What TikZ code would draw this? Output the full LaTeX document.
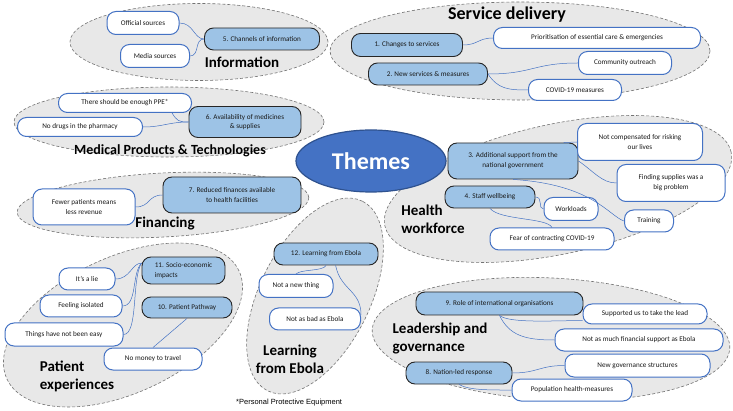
\documentclass[tikz,border=0pt]{standalone}
\usepackage{fontspec}
\setmainfont{Carlito}
\newfontfamily\notefont{Liberation Sans}
\usetikzlibrary{shapes.geometric}
\definecolor{themeblue}{HTML}{9DC3E6}
\definecolor{linkblue}{HTML}{4472C4}
\definecolor{hubborder}{HTML}{2F528F}
\tikzset{
  region/.style={ellipse,draw=black!55,fill=black!9,dash pattern=on 3pt off 2pt,line width=0.6pt,inner sep=0pt},
  themebox/.style={draw=black!85,fill=themeblue,rounded corners=9pt,line width=0.9pt,inner sep=0pt,align=center,text=black!90,font=\fontsize{7.2}{9.8}\selectfont},
  quotebox/.style={draw=linkblue,fill=white,rounded corners=9pt,line width=1pt,inner sep=0pt,align=center,text=black!90,font=\fontsize{7.2}{9.8}\selectfont},
  heading/.style={font=\bfseries\fontsize{15}{18}\selectfont,inner sep=0pt},
  link/.style={draw=linkblue,line width=0.5pt}
}

\begin{document}
\begin{tikzpicture}[x=1pt,y=-1pt]
  \fill[white] (0,0) rectangle (733,411);
  \useasboundingbox (0,0) rectangle (733,411);
  \node[region,minimum width=258pt,minimum height=77pt] (rInfo) at (199,42) {};
  \node[region,minimum width=380pt,minimum height=98pt] (rSD) at (520,51) {};
  \node[region,minimum width=310pt,minimum height=70pt] (rMed) at (169,122) {};
  \node[region,minimum width=292pt,minimum height=64pt,rotate=3] (rFin) at (163,205) {};
  \node[region,minimum width=354pt,minimum height=130pt,rotate=12] (rHW) at (558,189) {};
  \node[region,minimum width=256pt,minimum height=136pt,rotate=25] (rPE) at (123,325) {};
  \node[region,minimum width=212pt,minimum height=110pt,rotate=63.4] (rLE) at (315,296) {};
  \node[region,minimum width=358pt,minimum height=122pt,rotate=-3] (rLG) at (551,339) {};
  \node[ellipse,draw=hubborder,fill=linkblue,line width=1.2pt,minimum width=150pt,minimum height=62pt,inner sep=0pt,text=white,font=\bfseries\fontsize{24}{28}\selectfont] (themes) at (371,161) {Themes};

  \node[heading,font=\bfseries\fontsize{18}{22}\selectfont] (tSD) at (507,15) {Service delivery};
  \node[themebox,minimum width=111pt,minimum height=23pt] (svc1) at (407,45) {1. Changes to services};
  \node[themebox,minimum width=119pt,minimum height=22pt] (svc2) at (428,74) {2. New services \& measures};
  \node[quotebox,minimum width=207pt,minimum height=21pt] (prio) at (597,38) {Prioritisation of essential care \& emergencies};
  \node[quotebox,minimum width=93pt,minimum height=23pt] (outreach) at (625,63) {Community outreach};
  \node[quotebox,minimum width=93pt,minimum height=21pt] (covidm) at (575,90) {COVID-19 measures};
  \draw[link] (svc1.east) .. controls +(15,0) and +(-15,0) .. (prio.west);
  \draw[link] (svc2.east) .. controls +(45,0) and +(-45,0) .. (outreach.west);
  \draw[link] (svc2.east) .. controls +(10,15) and +(-20,0) .. (covidm.west);

  \node[heading] (tInfo) at (242,62) {Information};
  \node[themebox,minimum width=115pt,minimum height=22pt] (info5) at (262,39) {5. Channels of information};
  \node[quotebox,minimum width=72pt,minimum height=23pt] (offsrc) at (143,23) {Official sources};
  \node[quotebox,minimum width=69pt,minimum height=23pt] (medsrc) at (155,56) {Media sources};
  \draw[link] (offsrc.east) .. controls +(14,0) and +(-10,0) .. (info5.west);
  \draw[link] (medsrc.east) .. controls +(10,0) and +(-10,0) .. (info5.west);

  \node[heading,font=\bfseries\fontsize{14}{17}\selectfont] (tMed) at (170,151) {Medical Products \& Technologies};
  \node[themebox,minimum width=112pt,minimum height=31pt] (med6) at (245,122) {6. Availability of medicines\\\& supplies};
  \node[quotebox,minimum width=133pt,minimum height=19pt] (ppe) at (125,103) {There should be enough PPE*};
  \node[quotebox,minimum width=125pt,minimum height=19pt] (drugs) at (80,127) {No drugs in the pharmacy};
  \draw[link] (ppe.-12) .. controls +(5,8) and +(-10,0) .. (med6.west);
  \draw[link] (drugs.east) .. controls +(20,0) and +(-20,0) .. (med6.west);

  \node[heading] (tFin) at (165,224) {Financing};
  \node[themebox,minimum width=138pt,minimum height=36pt] (fin7) at (232,195) {7. Reduced finances available\\to health facilities};
  \node[quotebox,minimum width=102pt,minimum height=36pt] (fewer) at (84,207) {Fewer patients means\\less revenue};
  \draw[link] (fewer.east) .. controls +(15,0) and +(-15,0) .. (fin7.west);

  \node[heading,align=left] (tHW) at (433,219) {Health\\workforce};
  \node[themebox,minimum width=130pt,minimum height=36pt] (hw3) at (513,161) {3. Additional support from the\\national government};
  \node[quotebox,minimum width=125pt,minimum height=37pt] (nocomp) at (640,142) {Not compensated for risking\\our lives};
  \node[quotebox,minimum width=108pt,minimum height=37pt] (findsup) at (671,183) {Finding supplies was a\\big problem};
  \node[themebox,minimum width=90pt,minimum height=22pt] (hw4) at (490,197) {4. Staff wellbeing};
  \node[quotebox,minimum width=54pt,minimum height=23pt] (workl) at (571,209) {Workloads};
  \node[quotebox,minimum width=49pt,minimum height=22pt] (train) at (649,221) {Training};
  \node[quotebox,minimum width=124pt,minimum height=22pt] (fear) at (552,239) {Fear of contracting COVID-19};
  \draw[link] (hw3.20) -- (nocomp.west);
  \draw[link] (hw3.east) .. controls +(15,10) and +(-15,0) .. (findsup.west);
  \draw[link] (hw3.south) .. controls +(80,5) and +(-15,-5) .. (train.west);
  \draw[link] (hw4.east) .. controls +(8,0) and +(-6,0) .. (workl.west);
  \draw[link] (hw4.south) .. controls +(10,12) and +(-5,-10) .. (fear.north);

  \node[heading,align=left] (tPE) at (77,376) {Patient\\experiences};
  \node[themebox,minimum width=83pt,minimum height=27pt,align=left] (pe11) at (183.5,270.5) {11. Socio-economic\\impacts};
  \node[themebox,minimum width=90pt,minimum height=21pt] (pe10) at (187,307.5) {10. Patient Pathway};
  \node[quotebox,minimum width=56pt,minimum height=22pt] (lie) at (87,279) {It’s a lie};
  \node[quotebox,minimum width=82pt,minimum height=22pt] (isol) at (81,306) {Feeling isolated};
  \node[quotebox,minimum width=118pt,minimum height=23pt] (noteasy) at (64,334.5) {Things have not been easy};
  \node[quotebox,minimum width=98pt,minimum height=22pt] (nomoney) at (153,359) {No money to travel};
  \draw[link] (lie.east) .. controls +(15,0) and +(-10,0) .. (pe11.170);
  \draw[link] (isol.east) .. controls +(15,0) and +(-10,10) .. (pe11.170);
  \draw[link] (noteasy.east) .. controls +(15,0) and +(-10,15) .. (pe11.170);
  \draw[link] (pe10.south) -- (nomoney.north);

  \node[heading,align=center] (tLE) at (290,359) {Learning\\from Ebola};
  \node[themebox,minimum width=104pt,minimum height=22pt] (le12) at (326,254) {12. Learning from Ebola};
  \node[quotebox,minimum width=74pt,minimum height=23pt] (nonew) at (296,286) {Not a new thing};
  \node[quotebox,minimum width=91pt,minimum height=22pt] (notbad) at (315,319) {Not as bad as Ebola};
  \draw[link] (le12.south) .. controls +(-3,6) and +(5,-5) .. (nonew.north);
  \draw[link] (le12.-50) .. controls +(5,25) and +(0,-25) .. (notbad.5);

  \node[heading,align=left] (tLG) at (440,339) {Leadership and\\governance};
  \node[themebox,minimum width=167pt,minimum height=23pt] (lg9) at (499.5,303.5) {9. Role of international organisations};
  \node[quotebox,minimum width=124pt,minimum height=20pt] (supp) at (645,314) {Supported us to take the lead};
  \node[quotebox,minimum width=168pt,minimum height=22pt] (notmuch) at (639,340) {Not as much financial support as Ebola};
  \node[themebox,minimum width=106pt,minimum height=22pt] (lg8) at (459,373) {8. Nation-led response};
  \node[quotebox,minimum width=145pt,minimum height=23pt] (newgov) at (637.5,365.5) {New governance structures};
  \node[quotebox,minimum width=120pt,minimum height=22pt] (pophm) at (572,390) {Population health-measures};
  \draw[link] (lg9.south) .. controls +(10,8) and +(-30,0) .. (supp.186);
  \draw[link] (lg9.south) .. controls +(10,20) and +(-30,0) .. (notmuch.west);
  \draw[link] (lg8.east) .. controls +(25,0) and +(-25,0) .. (newgov.west);
  \draw[link] (lg8.south) .. controls +(10,6) and +(-20,0) .. (pophm.west);

  \node[anchor=west,inner sep=0pt,font=\notefont\fontsize{7.5}{9}\selectfont] (fn) at (236,403) {*Personal Protective Equipment};
\end{tikzpicture}
\end{document}
